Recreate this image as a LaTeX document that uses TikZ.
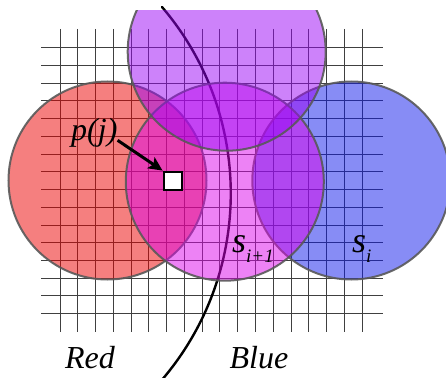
\documentclass[tikz,border=0pt]{standalone}
\usepackage{fontspec}
\setmainfont{Liberation Serif}
\usetikzlibrary{arrows.meta, positioning}
\definecolor{redzone}{RGB}{235,0,0}
\definecolor{bluezone}{RGB}{15,25,235}
\definecolor{magzone}{RGB}{220,5,235}
\definecolor{purplezone}{RGB}{155,5,245}

\begin{document}
\begin{tikzpicture}[
    x=1pt, y=-1pt, >=Stealth,
    gridline/.style={black!75, line width=1pt},
    disc/.style={draw=black!65, draw opacity=0.9, line width=2pt, fill opacity=0.5},
    lbl/.style={inner sep=0pt, anchor=base west, font=\fontsize{32}{32}\selectfont\itshape}
]
  \useasboundingbox (0,0) rectangle (446,377);
  \clip (0,0) rectangle (446,377);

  % grid
  \foreach \i in {0,...,17}
    \draw[gridline] ({60+17.77*\i},29) -- ({60+17.77*\i},332);
  \foreach \j in {0,...,15}
    \draw[gridline] (41,{47.7+17.73*\j}) -- (383,{47.7+17.73*\j});

  % boundary between Red and Blue
  \draw[line width=2.4pt, line cap=round] (162,7) arc[start angle=-40.5, end angle=41, radius=287];

  % sensing discs
  \path[disc, fill=redzone] (107.5,180.5) circle[radius=99];
  \path[disc, fill=bluezone] (351.3,180.5) circle[radius=99];
  \path[disc, fill=magzone] (224.8,181.7) circle[radius=99];
  \begin{scope}
    \clip (0,11) rectangle (446,377);
    \path[disc, fill=purplezone] (226.7,51.7) circle[radius=99];
  \end{scope}

  % point and labels
  \node[draw, fill=white, line width=2.8pt, minimum size=18pt, inner sep=0pt] (pt) at (173,181) {};
  \node[lbl] (pj) at (71,140) {p(j)};
  \draw[->, line width=3pt, >={Stealth[length=14pt, width=13pt, inset=3pt]}] ([yshift=-8pt]pj.east) -- (pt.north west);

  \node[lbl, font=\fontsize{36}{36}\selectfont\itshape] (snext) at (232,252) {s\fontsize{19}{19}\selectfont\raisebox{-10pt}{i+1}};
  \node[lbl, font=\fontsize{36}{36}\selectfont\itshape] (scur) at (352,252) {s\fontsize{19}{19}\selectfont\raisebox{-10pt}{i}};

  \node[lbl, anchor=base] (red) at (90,368) {Red};
  \node[lbl, anchor=base] (blue) at (259,368) {Blue};
\end{tikzpicture}
\end{document}
